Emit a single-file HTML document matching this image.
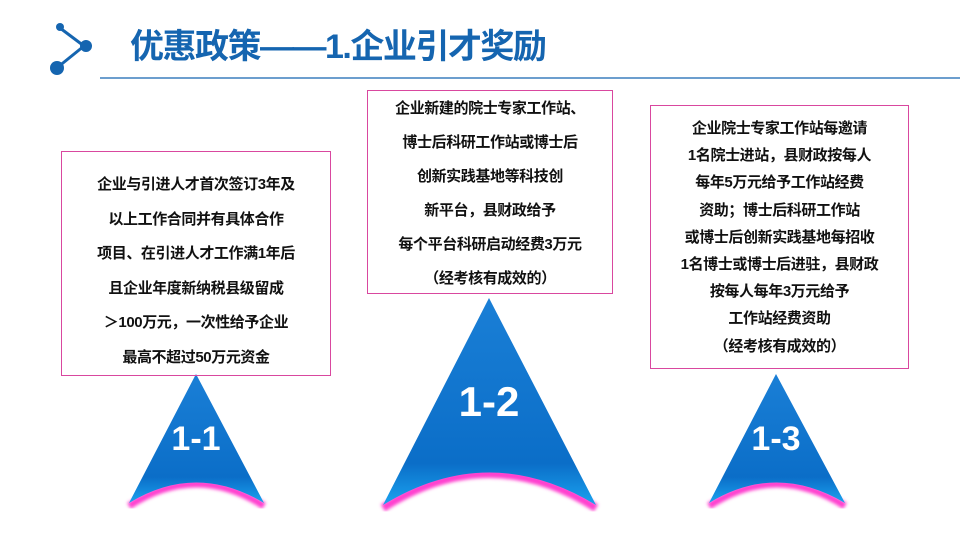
<!DOCTYPE html>
<html><head><meta charset="utf-8"><style>
body{margin:0;width:960px;height:540px;background:#fff;position:relative;overflow:hidden;font-family:"Liberation Sans","Noto Sans CJK SC",sans-serif}
.t{position:absolute;left:130px;top:27px;font-size:34px;font-weight:bold;color:#1565b0;letter-spacing:-1.5px;white-space:nowrap;line-height:40px}
.box{position:absolute;border:1px solid #d9479f;box-sizing:border-box;text-align:center;font-weight:bold;font-size:15px;color:#111;letter-spacing:-0.4px}
</style></head><body>
<svg width="960" height="540" style="position:absolute;left:0;top:0">
<defs>
<linearGradient id="g" x1="0" y1="0" x2="0" y2="1"><stop offset="0" stop-color="#1a7fd6"/><stop offset="0.8" stop-color="#0b6ec8"/><stop offset="1" stop-color="#1aa3ef"/></linearGradient>
<filter id="b"><feGaussianBlur stdDeviation="1.5"/></filter>
</defs>
<line x1="60" y1="28" x2="84" y2="46" stroke="#1565b0" stroke-width="3"/>
<line x1="84" y1="46" x2="58" y2="67" stroke="#1565b0" stroke-width="3"/>
<circle cx="60" cy="27" r="4" fill="#1565b0"/><circle cx="86" cy="46" r="6" fill="#1565b0"/><circle cx="57" cy="68" r="7" fill="#1565b0"/>
<line x1="100" y1="78" x2="960" y2="78" stroke="#1565b0" stroke-width="1.2"/>
<path d="M129,506 Q196,462 264,506" fill="none" stroke="#ff3fcf" stroke-width="7" filter="url(#b)"/>
<path d="M196,374 L264,503 Q196,462 129,503 Z" fill="url(#g)"/>
<path d="M383,508 Q489,440 596,508" fill="none" stroke="#ff3fcf" stroke-width="8" filter="url(#b)"/>
<path d="M489,298 L596,505 Q489,440 383,505 Z" fill="url(#g)"/>
<path d="M709,506 Q776,462 845,506" fill="none" stroke="#ff3fcf" stroke-width="7" filter="url(#b)"/>
<path d="M776,374 L845,503 Q776,462 709,503 Z" fill="url(#g)"/>
<text x="196" y="450" font-family="Liberation Sans" font-weight="bold" font-size="34" fill="#fff" text-anchor="middle">1-1</text>
<text x="489" y="416" font-family="Liberation Sans" font-weight="bold" font-size="42" fill="#fff" text-anchor="middle">1-2</text>
<text x="776" y="450" font-family="Liberation Sans" font-weight="bold" font-size="34" fill="#fff" text-anchor="middle">1-3</text>
</svg>
<div class="t">优惠政策——1.企业引才奖励</div>
<div class="box" style="left:61px;top:151px;width:270px;height:225px;padding-top:16px;line-height:34.5px">企业与引进人才首次签订3年及<br>以上工作合同并有具体合作<br>项目、在引进人才工作满1年后<br>且企业年度新纳税县级留成<br>＞100万元，一次性给予企业<br>最高不超过50万元资金</div>
<div class="box" style="left:367px;top:90px;width:246px;height:204px;padding-top:1px;line-height:34px">企业新建的院士专家工作站、<br>博士后科研工作站或博士后<br>创新实践基地等科技创<br>新平台，县财政给予<br>每个平台科研启动经费3万元<br>（经考核有成效的）</div>
<div class="box" style="left:650px;top:105px;width:259px;height:264px;padding-top:9px;line-height:27.2px">企业院士专家工作站每邀请<br>1名院士进站，县财政按每人<br>每年5万元给予工作站经费<br>资助；博士后科研工作站<br>或博士后创新实践基地每招收<br>1名博士或博士后进驻，县财政<br>按每人每年3万元给予<br>工作站经费资助<br>（经考核有成效的）</div>
</body></html>
